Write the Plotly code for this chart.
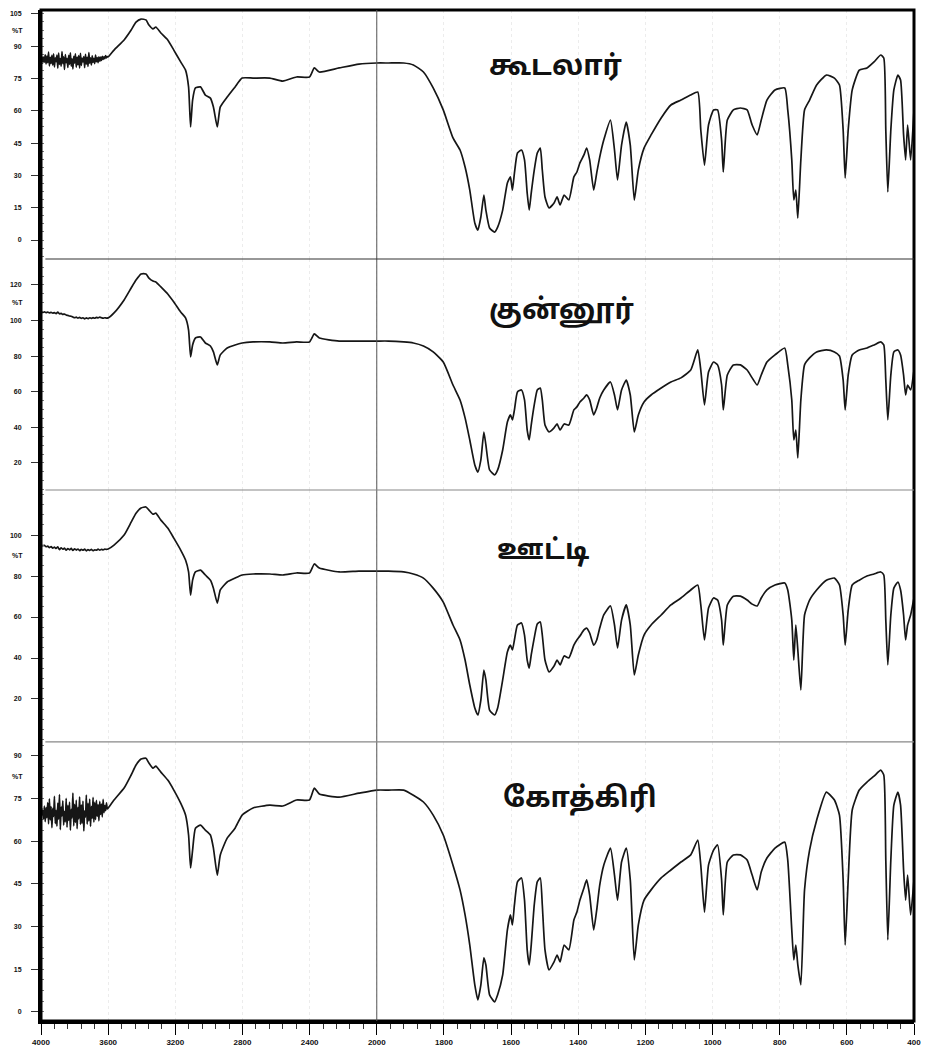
import plotly.graph_objects as go
from plotly.subplots import make_subplots

# ---------------------------------------------------------------- data
# wavenumber axis labels (cm-1); spacing doubles below 2000 cm-1
TICK_WN = [4000, 3600, 3200, 2800, 2400, 2000, 1800, 1600, 1400, 1200, 1000, 800, 600, 400]

SITES = ["கூடலார்", "குன்னூர்", "ஊட்டி", "கோத்கிரி"]

# high-wavenumber end of the scans (noisy region), fine sampling
NOISE_WN_FINE = [4000, 3995, 3990, 3985, 3980, 3975, 3970, 3965, 3960, 3955,
                 3950, 3945, 3940, 3935, 3930, 3925, 3920, 3915, 3910, 3905,
                 3900, 3895, 3890, 3885, 3880, 3875, 3870, 3865, 3860, 3855,
                 3850, 3845, 3840, 3835, 3830, 3825, 3820, 3815, 3810, 3805,
                 3800, 3795, 3790, 3785, 3780, 3775, 3770, 3765, 3760, 3755,
                 3750, 3745, 3740, 3735, 3730, 3725, 3720, 3715, 3710, 3705,
                 3700, 3695, 3690, 3685, 3680, 3675, 3670, 3665, 3660, 3655,
                 3650, 3645, 3640, 3635, 3630, 3625, 3620, 3615, 3610, 3605]

# same region, coarse sampling (quieter scans)
NOISE_WN = [4000, 3990, 3980, 3970, 3960, 3950, 3940, 3930, 3920, 3910,
            3900, 3890, 3880, 3870, 3860, 3850, 3840, 3830, 3820, 3810,
            3800, 3790, 3780, 3770, 3760, 3750, 3740, 3730, 3720, 3710,
            3700, 3690, 3680, 3670, 3660, 3650, 3640, 3630, 3620, 3610]

# sampled wavenumbers for the rest of the spectrum
WN = [3600, 3565, 3505, 3463, 3434, 3404, 3375, 3357, 3333, 3316,
      3286, 3245, 3209, 3168, 3139, 3121, 3109, 3097, 3080, 3050,
      3021, 2991, 2973, 2950, 2932, 2891, 2844, 2802, 2737, 2637,
      2560, 2478, 2401, 2372, 2342, 2224, 2106, 2000, 1965, 1920,
      1891, 1861, 1832, 1802, 1773, 1752, 1737, 1723, 1708, 1699,
      1690, 1681, 1675, 1664, 1649, 1640, 1625, 1611, 1602, 1596,
      1590, 1581, 1569, 1560, 1552, 1546, 1540, 1531, 1522, 1513,
      1507, 1499, 1487, 1472, 1463, 1454, 1442, 1428, 1413, 1404,
      1395, 1383, 1375, 1366, 1354, 1345, 1336, 1324, 1304, 1292,
      1283, 1271, 1257, 1245, 1233, 1221, 1204, 1183, 1153, 1124,
      1094, 1065, 1044, 1035, 1024, 1012, 997, 985, 973, 968,
      956, 938, 917, 897, 882, 867, 855, 838, 814, 785,
      776, 764, 758, 752, 746, 737, 726, 711, 690, 661,
      637, 622, 611, 605, 596, 584, 563, 540, 519, 499,
      490, 484, 478, 469, 460, 448, 440, 431, 425, 419,
      410, 400]

# %T, Gudalur
GUDALUR_NOISE = [83.0, 85.2, 82.1, 84.9, 82.6, 86.0, 81.8, 85.4, 82.3, 87.2,
                 80.9, 84.8, 82.0, 85.7, 81.2, 86.5, 80.4, 84.6, 82.8, 85.9,
                 79.8, 86.8, 81.5, 84.2, 80.7, 87.5, 81.9, 85.0, 79.2, 86.1,
                 82.4, 84.4, 80.1, 85.8, 81.6, 86.9, 80.8, 84.1, 79.5, 85.3,
                 82.2, 86.4, 80.3, 84.9, 81.4, 85.6, 79.9, 86.7, 81.1, 84.5,
                 82.7, 85.2, 80.0, 86.2, 81.7, 84.8, 80.6, 87.0, 82.1, 84.6,
                 81.3, 85.5, 82.5, 84.3, 81.9, 85.9, 82.8, 84.7, 82.3, 85.1,
                 83.0, 84.9, 83.4, 85.3, 83.9, 85.0, 84.2, 85.6, 84.6, 85.2]
GUDALUR = [85.0, 88.2, 92.9, 97.5, 101.2, 102.6, 102.2, 99.8, 98.0, 98.9,
           96.1, 92.9, 88.2, 82.7, 78.9, 71.1, 52.5, 65.0, 70.6, 71.1,
           67.3, 65.9, 61.8, 52.5, 61.8, 66.4, 71.1, 75.2, 75.2, 75.2,
           73.8, 75.7, 75.7, 79.9, 78.0, 79.9, 81.7, 82.2, 82.2, 82.2,
           81.3, 78.0, 70.6, 60.4, 47.4, 41.8, 33.9, 23.2, 7.9, 4.6,
           10.7, 20.9, 13.9, 5.6, 3.7, 6.0, 13.9, 26.5, 29.3, 23.2,
           31.1, 40.4, 41.8, 37.2, 21.8, 13.9, 21.8, 32.5, 40.4, 42.7,
           32.5, 20.0, 14.9, 17.2, 20.0, 16.3, 20.9, 18.6, 29.3, 31.6,
           35.8, 39.5, 42.7, 37.2, 23.2, 31.1, 38.5, 46.4, 55.7, 41.8,
           27.9, 44.1, 54.8, 44.1, 18.6, 32.5, 42.7, 48.8, 56.7, 62.7,
           65.0, 67.3, 68.7, 51.1, 34.8, 53.4, 60.4, 60.4, 46.4, 31.6,
           55.7, 60.4, 61.3, 60.4, 53.4, 48.8, 55.7, 65.0, 69.7, 70.6,
           60.4, 37.2, 18.6, 23.2, 10.2, 37.2, 60.4, 65.0, 72.0, 76.6,
           75.2, 72.0, 51.1, 28.8, 51.1, 69.7, 78.9, 79.9, 82.7, 85.9,
           84.5, 51.1, 22.3, 51.1, 69.7, 76.6, 74.3, 48.8, 37.2, 53.4,
           37.2, 60.4]

# %T, Coonoor
COONOOR_NOISE = [104.8, 104.6, 104.9, 104.5, 104.7, 104.3, 104.6, 104.2, 104.5, 103.9,
                 104.8, 103.8, 104.0, 103.5, 103.7, 103.1, 102.9, 102.6, 102.4, 102.0,
                 101.6, 101.9, 101.4, 101.8, 101.2, 101.6, 101.0, 101.5, 101.1, 101.6,
                 101.2, 101.7, 101.3, 101.8, 101.5, 101.9, 101.6, 101.3, 101.6, 101.4]
COONOOR = [101.5, 104.3, 111.6, 118.3, 122.8, 126.2, 126.2, 123.9, 122.2, 121.7,
           118.9, 114.9, 110.4, 104.8, 101.5, 94.7, 79.6, 86.3, 90.2, 90.8,
           87.4, 85.7, 82.4, 75.1, 80.7, 84.6, 86.3, 87.4, 88.0, 88.0,
           87.4, 88.0, 88.0, 92.5, 90.2, 88.5, 88.5, 88.5, 88.5, 88.0,
           87.4, 85.7, 82.4, 76.7, 63.8, 55.4, 45.3, 32.9, 18.9, 14.9,
           21.7, 37.4, 30.1, 16.1, 13.3, 16.1, 27.3, 43.0, 47.0, 44.2,
           49.8, 59.9, 61.0, 55.4, 38.5, 32.9, 41.3, 52.6, 61.0, 62.1,
           55.4, 41.3, 37.4, 39.7, 41.9, 38.5, 41.9, 41.3, 49.8, 51.5,
           54.3, 56.5, 58.2, 55.4, 47.0, 50.9, 56.5, 61.0, 65.5, 58.2,
           49.8, 61.0, 66.6, 58.2, 37.4, 47.0, 54.3, 58.2, 62.1, 65.5,
           67.8, 72.2, 83.5, 72.2, 52.6, 71.1, 76.7, 75.1, 63.8, 49.8,
           69.4, 75.1, 75.1, 72.2, 67.8, 63.8, 69.4, 76.7, 80.7, 84.6,
           75.1, 55.4, 32.9, 38.5, 22.8, 55.4, 75.1, 79.0, 82.4, 83.5,
           82.4, 80.1, 66.6, 49.8, 69.4, 80.7, 83.5, 84.6, 86.3, 88.0,
           86.3, 66.6, 44.2, 69.4, 82.4, 83.5, 80.7, 69.4, 58.2, 63.8,
           61.0, 72.2]

# %T, Ooty
OOTY_NOISE = [95.1, 94.8, 95.0, 94.3, 94.6, 93.9, 94.4, 93.6, 94.1, 93.5,
              94.2, 92.9, 93.8, 93.1, 93.6, 92.6, 93.4, 92.8, 93.5, 92.5,
              93.3, 92.7, 93.2, 92.4, 93.0, 92.6, 93.1, 92.3, 92.9, 92.5,
              93.0, 92.4, 92.8, 92.6, 93.1, 92.7, 93.0, 92.8, 93.2, 93.0]
OOTY = [93.2, 95.1, 100.0, 106.3, 110.7, 113.2, 113.7, 112.2, 110.2, 110.7,
        107.3, 103.4, 98.5, 92.7, 87.8, 82.0, 70.7, 78.0, 82.0, 82.9,
        80.5, 78.0, 74.1, 66.8, 73.2, 77.1, 79.0, 80.5, 81.0, 81.0,
        80.5, 81.5, 81.5, 85.9, 83.9, 82.0, 82.4, 82.4, 82.4, 82.0,
        81.0, 79.0, 74.1, 67.3, 56.1, 48.8, 39.0, 26.8, 15.6, 12.2,
        19.5, 34.1, 29.3, 14.6, 12.2, 15.6, 29.3, 42.9, 46.3, 43.9,
        48.8, 56.1, 57.1, 51.2, 39.0, 35.1, 41.5, 49.8, 56.6, 57.6,
        51.2, 39.0, 33.2, 36.1, 39.0, 36.6, 41.0, 40.0, 46.3, 48.8,
        50.7, 53.7, 54.6, 52.2, 46.3, 48.8, 54.6, 61.0, 65.4, 56.1,
        44.9, 58.5, 65.9, 56.1, 31.7, 41.5, 51.2, 56.1, 61.0, 65.9,
        69.3, 73.2, 75.6, 65.9, 48.8, 64.4, 69.3, 68.3, 58.5, 46.3,
        65.9, 70.2, 70.2, 68.3, 66.3, 65.4, 69.3, 73.2, 75.6, 76.6,
        73.2, 58.5, 39.0, 56.1, 43.9, 24.4, 61.0, 68.3, 73.2, 78.0,
        79.0, 75.6, 61.0, 46.3, 63.4, 75.6, 78.0, 80.0, 81.0, 82.0,
        80.5, 58.5, 36.6, 61.0, 74.1, 77.1, 73.2, 61.0, 48.8, 56.1,
        61.0, 69.3]

# %T, Kotagiri
KOTAGIRI_NOISE = [70.0, 69.2, 71.3, 67.8, 72.4, 66.9, 71.8, 68.3, 73.6, 66.1,
                  74.9, 67.5, 72.2, 64.8, 71.6, 68.7, 75.8, 66.2, 70.9, 65.3,
                  73.4, 67.7, 76.4, 64.1, 72.0, 68.9, 74.2, 65.7, 70.5, 66.8,
                  75.1, 64.9, 72.6, 67.3, 73.8, 63.9, 71.2, 68.2, 76.9, 65.4,
                  73.0, 66.6, 74.5, 64.4, 71.9, 67.9, 75.6, 65.9, 72.8, 66.3,
                  74.1, 63.6, 70.7, 68.5, 76.2, 66.0, 73.3, 67.1, 74.8, 65.2,
                  72.3, 68.0, 75.4, 66.7, 73.7, 67.6, 74.4, 68.8, 72.9, 67.2,
                  74.0, 69.4, 73.1, 68.6, 74.7, 70.1, 72.5, 70.8, 73.5, 71.4]
KOTAGIRI = [71.7, 74.5, 78.7, 83.3, 86.8, 88.9, 89.2, 87.5, 85.7, 86.4,
            84.3, 81.5, 78.0, 73.4, 69.2, 62.2, 50.6, 56.9, 64.6, 65.7,
            63.9, 62.2, 57.6, 48.1, 55.2, 61.1, 64.6, 69.2, 71.7, 72.7,
            72.4, 74.5, 74.5, 78.7, 76.6, 75.5, 76.9, 78.0, 78.0, 78.0,
            76.2, 73.8, 69.2, 62.2, 51.6, 42.9, 34.1, 23.5, 9.5, 4.2,
            9.5, 19.0, 16.5, 6.0, 3.5, 6.0, 13.0, 28.8, 34.1, 30.6,
            37.6, 45.7, 47.1, 39.3, 21.8, 16.5, 23.5, 37.6, 45.7, 47.1,
            37.6, 21.8, 14.8, 17.6, 20.0, 17.6, 23.5, 21.8, 32.3, 35.1,
            39.3, 43.6, 46.4, 41.1, 28.8, 35.8, 44.6, 51.6, 57.6, 48.1,
            39.3, 52.7, 57.6, 46.4, 18.3, 30.6, 39.3, 42.9, 47.1, 49.9,
            52.7, 55.2, 60.4, 51.6, 35.1, 51.6, 56.9, 58.7, 46.4, 34.1,
            52.7, 55.2, 55.2, 53.4, 48.1, 42.9, 49.2, 54.1, 57.6, 59.7,
            53.4, 28.8, 18.3, 23.5, 16.5, 9.5, 42.9, 56.9, 67.4, 77.3,
            74.5, 69.2, 46.4, 23.5, 46.4, 71.0, 78.0, 80.8, 82.9, 85.0,
            83.3, 53.4, 25.3, 53.4, 72.7, 77.3, 72.7, 49.9, 39.3, 48.1,
            34.1, 46.4]

# per-panel %T axis ticks and ranges
Y_TICKS = [[0, 15, 30, 45, 60, 75, 90, 105],
           [20, 40, 60, 80, 100, 120],
           [20, 40, 60, 80, 100],
           [0, 15, 30, 45, 60, 75, 90]]
Y_RANGES = [[-8.8, 106.8], [4.8, 134.6], [-1.0, 122.0], [-3.2, 94.9]]
Y_MINOR = [3.75, 5, 5, 3.75]
PCT_T_POS = [97.5, 109.9, 89.8, 82.6]

SPECTRA = [(NOISE_WN_FINE, GUDALUR_NOISE, GUDALUR),
           (NOISE_WN, COONOOR_NOISE, COONOOR),
           (NOISE_WN, OOTY_NOISE, OOTY),
           (NOISE_WN_FINE, KOTAGIRI_NOISE, KOTAGIRI)]


def axis_pos(wn):
    """Map a wavenumber onto the instrument's split scale."""
    if wn >= 2000:
        return (4000 - wn) / 400
    return 5 + (2000 - wn) / 200


# ---------------------------------------------------------------- figure
fig = make_subplots(rows=4, cols=1, shared_xaxes=True, vertical_spacing=0,
                    row_heights=[249, 231, 252, 279])

for i, (nwn, noise, main) in enumerate(SPECTRA):
    wn = nwn + WN
    t = noise + main
    fig.add_trace(go.Scatter(
        x=[axis_pos(w) for w in wn], y=t, mode="lines",
        line=dict(color="#161616", width=1.7, shape="spline", smoothing=0.5),
        hoverinfo="skip", showlegend=False), row=i + 1, col=1)

tick_font = dict(family="Liberation Sans, Arial, sans-serif", size=8,
                 color="#111", weight="bold")

for i in range(4):
    fig.update_yaxes(
        row=i + 1, col=1, range=Y_RANGES[i], tickvals=Y_TICKS[i],
        ticktext=[str(v) for v in Y_TICKS[i]],
        ticks="outside", ticklen=7, tickwidth=1, tickcolor="#333",
        tickfont=dict(family="Liberation Sans, Arial, sans-serif", size=7,
                      color="#111", weight="bold"),
        ticklabelstandoff=8,
        showline=True, linewidth=3, linecolor="black",
        showgrid=False, zeroline=False,
        minor=dict(dtick=Y_MINOR[i], tick0=0, ticks="inside", ticklen=3,
                   tickcolor="#777", showgrid=False))

tickvals = [axis_pos(w) for w in TICK_WN]
for i in range(4):
    fig.update_xaxes(
        row=i + 1, col=1, range=[0, 13], tickvals=tickvals,
        ticktext=[str(w) for w in TICK_WN],
        showgrid=True, gridcolor="#ececec", griddash="dot", gridwidth=1,
        zeroline=False, showline=False, ticks="", showticklabels=False)

fig.update_xaxes(
    row=4, col=1, showticklabels=True, ticks="outside", ticklen=11,
    tickwidth=1.2, tickcolor="black", tickfont=tick_font,
    showline=True, linewidth=3, linecolor="black",
    minor=dict(dtick=0.2, tick0=0, ticks="outside", ticklen=5,
               tickcolor="#333", showgrid=False))

# outer frame, panel separators and the 2000 cm-1 scale break
shapes = [
    dict(type="rect", xref="paper", yref="paper", x0=0, x1=1, y0=0, y1=1,
         line=dict(color="black", width=3), layer="above"),
    dict(type="line", xref="x", yref="paper", x0=5, x1=5, y0=0, y1=1,
         line=dict(color="#555", width=1), layer="above"),
]
for yb, col in [(0.7537, "#333"), (0.5252, "#888"), (0.2760, "#888")]:
    shapes.append(dict(type="line", xref="paper", yref="paper", x0=0.005, x1=1,
                       y0=yb, y1=yb, line=dict(color=col, width=1.2)))

annotations = []
label_pos = [(0.589, 0.9426), (0.596, 0.7013), (0.5755, 0.4639), (0.6175, 0.2186)]
for name, (ax, ay) in zip(SITES, label_pos):
    annotations.append(dict(
        text=name, x=ax, y=ay, xref="paper", yref="paper", showarrow=False,
        xanchor="center", yanchor="middle",
        font=dict(family="Noto Sans Tamil, Lohit Tamil, Latha, Noto Sans, sans-serif",
                  size=28, color="#111", weight="bold")))

yrefs = ["y", "y2", "y3", "y4"]
for yr, ypos in zip(yrefs, PCT_T_POS):
    annotations.append(dict(
        text="%T", x=-0.027, y=ypos, xref="paper", yref=yr, showarrow=False,
        xanchor="center", yanchor="middle",
        font=dict(family="Liberation Sans, Arial, sans-serif", size=7,
                  color="#111", weight="bold")))

fig.update_layout(
    width=931, height=1061,
    margin=dict(l=39, r=11, t=10, b=40),
    paper_bgcolor="white", plot_bgcolor="white",
    shapes=shapes, annotations=annotations,
    showlegend=False,
)

fig.write_html("out.html")
